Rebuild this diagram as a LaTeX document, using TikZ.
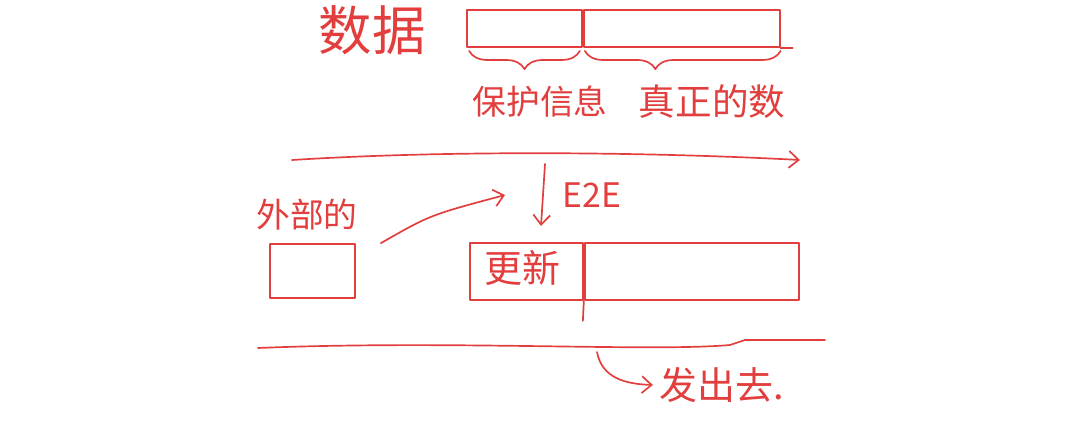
\documentclass[tikz,border=0pt]{standalone}
\usepackage{fontspec}
\setmainfont{Noto Sans CJK SC}
\usetikzlibrary{arrows.meta,positioning,calc,decorations.pathreplacing}
\definecolor{penred}{RGB}{226,62,62}
\tikzset{x=0.025cm, y=-0.025cm,
        every path/.style={draw=penred, line width=1.2pt, line cap=round, line join=round},
        cell/.style={draw=penred, rectangle, inner sep=0pt}, % one field of a frame
        hand/.style={text=penred, inner sep=0pt, font=\fontsize{24}{24}\selectfont},
        bigword/.style={hand, font=\fontsize{38}{38}\selectfont},
        brace/.style={decorate, decoration={brace, amplitude=13pt}},
        arr/.style={-{Straight Barb[length=7pt, width=12pt]}}
        }
\begin{document}
\begin{tikzpicture}
    \useasboundingbox[draw=none] (0,0) rectangle (1080,429);

    % frame before protection
    \node[bigword] (data) at (372,30) {数据};
    \node[cell, minimum width=2.875cm, minimum height=0.925cm] (hdr) at (524.5,28.5) {};
    \node[cell, minimum width=4.9cm, minimum height=0.925cm, anchor=west] (payload) at (hdr.east) {};
    \draw (payload.south east) -- ++(12,0);

    \draw[brace] ($(hdr.south east)+(-3,3)$) -- ($(hdr.south west)+(3,3)$);
    \draw[brace, decoration={aspect=0.64}] ($(payload.south east)+(0,3)$) -- ($(payload.south west)+(2,3)$);
    \node[hand] (prot) at (540,102) {保护信息};
    \node[hand, font=\fontsize{26}{26}\selectfont] (real) at (712,102) {真正的数};

    \coordinate (sepA w) at (292,160);
    \coordinate (sepA e) at (800,160);
    \draw[arr] (sepA w) .. controls (450,150) and (650,152) .. (sepA e);

    % protection step
    \coordinate (e2eTop) at (545,164);
    \coordinate (e2eEnd) at (541,226);
    \draw[arr] (e2eTop) -- (e2eEnd);
    \node[hand] (e2e) at (592,195) {E2E};

    \node[hand] (extLbl) at (307,215) {外部的};
    \node[cell, minimum width=2.125cm, minimum height=1.35cm] (ext) at (312.5,271) {};
    \coordinate (mergePt) at (505,195);
    \draw[arr] ($(ext.north east)+(25,0)$) .. controls (430,215) .. (mergePt);

    \node[cell, minimum width=2.825cm, minimum height=1.425cm] (upd) at (526.5,271.5) {};
    \node[cell, minimum width=5.35cm, minimum height=1.425cm, anchor=west] (rest) at (upd.east) {};
    \draw (upd.south east) -- ++(-1,20);
    \node[hand, font=\fontsize{27}{27}\selectfont] (updLbl) at (522,268) {更新};

    \coordinate (sepB w) at (258,348);
    \coordinate (sepB e) at (825,340);
    \draw (sepB w) .. controls (450,340) and (650,352) .. (730,345) -- (745,340) -- (sepB e);

    % send out
    \node[hand, font=\fontsize{27}{27}\selectfont] (send) at (722,385) {发出去.};
    \coordinate (sendFrom) at (597,352);
    \draw[arr] (sendFrom) .. controls (602,378) and (625,384) .. ($(send.west)+(-6,0)$);
\end{tikzpicture}
\end{document}
